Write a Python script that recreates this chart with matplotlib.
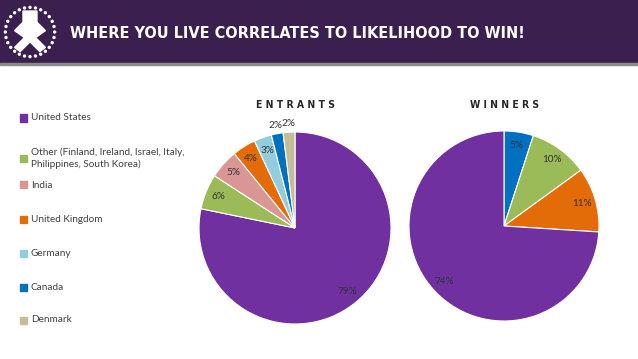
import matplotlib
matplotlib.use("Agg")
import matplotlib.pyplot as plt
import numpy as np
from matplotlib.patches import Rectangle, Polygon, Circle

# data
countries = ["United States", "Other (Finland, Ireland, Israel, Italy,\nPhilippines, South Korea)",
             "India", "United Kingdom", "Germany", "Canada", "Denmark"]
colors = ["#7030a0", "#9bbb59", "#d99694", "#e36c09", "#93cddd", "#0070c0", "#c4bd97"]
entrants = [79, 6, 5, 4, 3, 2, 2]
winner_names = ["Canada", "Other", "United Kingdom", "United States"]
winners = [5, 10, 11, 74]
winner_colors = ["#0070c0", "#9bbb59", "#e36c09", "#7030a0"]

W, H = 638, 359
fig = plt.figure(figsize=(W / 100, H / 100), dpi=100)
fig.patch.set_facecolor("white")

# header band (zorder below the axes so the logo shows)
fig.patches.append(Rectangle((0, 1 - 63 / H), 1, 63 / H, transform=fig.transFigure,
                             color="#3b1f4f", zorder=-2))
fig.patches.append(Rectangle((0, 1 - 65 / H), 1, 2 / H, transform=fig.transFigure,
                             color="#8a8a8a", zorder=-2))
fig.text(70 / W, 1 - 33 / H, "WHERE YOU LIVE CORRELATES TO LIKELIHOOD TO WIN!",
         color="white", fontsize=11.6, fontweight="bold", fontstretch="condensed",
         va="center", ha="left", family="DejaVu Sans")

# rough logo
lx = fig.add_axes([2 / W, 1 - 60 / H, 56 / W, 56 / H])
lx.set_xlim(-1, 1)
lx.set_ylim(-1, 1)
lx.axis("off")
for a in np.linspace(0, 2 * np.pi, 28, endpoint=False):
    lx.add_patch(Circle((0.88 * np.cos(a), 0.88 * np.sin(a)), 0.035, color="white"))
cross = [(-0.25, 0.75), (0.25, 0.75), (0.25, 0.35), (0.55, 0.05), (0.2, -0.2), (0.55, -0.55),
         (0.35, -0.7), (0.0, -0.35), (-0.35, -0.7), (-0.55, -0.55), (-0.2, -0.2),
         (-0.55, 0.05), (-0.25, 0.35)]
lx.add_patch(Polygon(cross, closed=True, color="white"))

# legend
leg_y = [118, 158, 185, 219, 253, 287, 320]
for name, c, y in zip(countries, colors, leg_y):
    fig.patches.append(Rectangle((20 / W, 1 - (y + 3.5) / H), 7 / W, 7 / H,
                                 transform=fig.transFigure, color=c))
    fig.text(31 / W, 1 - y / H, name, fontsize=7.2, color="#404040", va="center",
             ha="left", family="Lato", linespacing=1.3)


def draw_pie(center, r, vals, cols, title, far=None):
    cx, cy = center
    ax = fig.add_axes([(cx - r) / W, 1 - (cy + r) / H, 2 * r / W, 2 * r / H])
    wedges, _ = ax.pie(vals, colors=cols, startangle=90, counterclock=False,
                       wedgeprops=dict(edgecolor="white", linewidth=0.8))
    ax.set_xlim(-1, 1)
    ax.set_ylim(-1, 1)
    ax.set_aspect("equal")
    for i, (wd, v) in enumerate(zip(wedges, vals)):
        ang = np.deg2rad((wd.theta1 + wd.theta2) / 2)
        d = 0.86
        if far and i in far:
            d = far[i]
        ax.text(d * np.cos(ang), d * np.sin(ang), "%d%%" % v, ha="center", va="center",
                fontsize=7.2, color="#333333", family="Lato")
    fig.text(cx / W, 1 - 105 / H, " ".join(title), ha="center", va="center",
             fontsize=7.5, fontweight="bold", fontstretch="condensed", color="#262626",
             family="DejaVu Sans")
    return ax


draw_pie((295, 228), 96, entrants, colors, "ENTRANTS", far={5: 1.09, 6: 1.09})
draw_pie((504, 226), 95, winners, winner_colors, "WINNERS")

fig.savefig("out.png", dpi=100)
